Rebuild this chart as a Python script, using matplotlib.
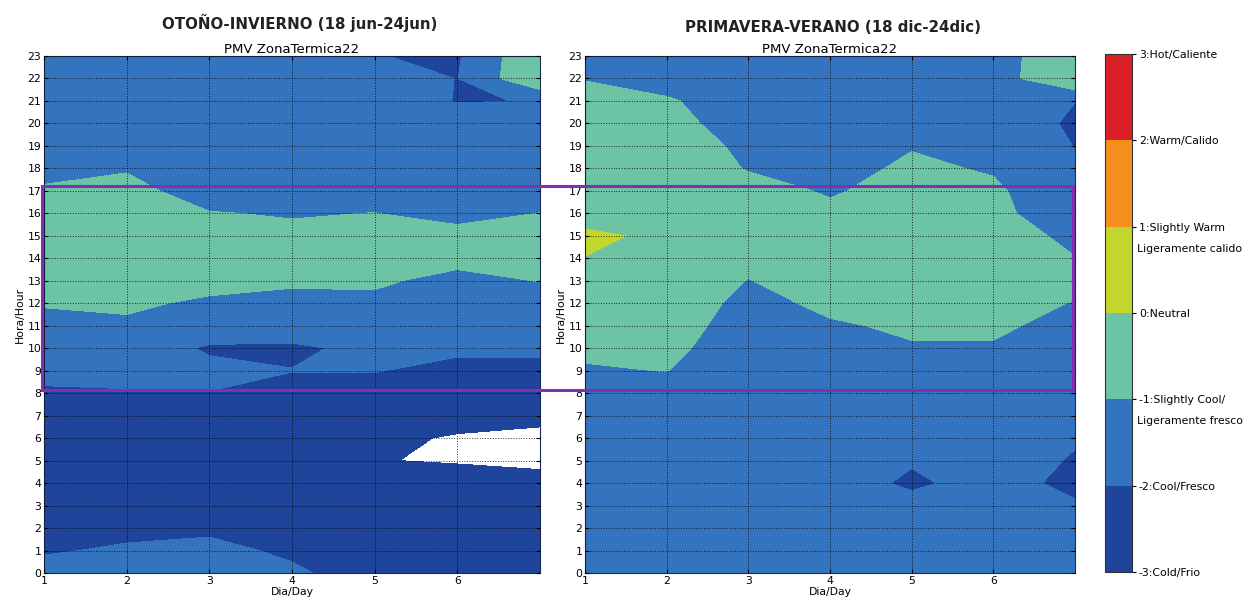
import matplotlib
matplotlib.use("Agg")
import matplotlib.pyplot as plt
import matplotlib.transforms as mtransforms
import numpy as np
from matplotlib.patches import Rectangle

days = [1, 2, 3, 4, 5, 6, 7]
hours = list(range(24))

# PMV, one list per day (hour 0..23) - Otono-Invierno
oi_d1 = [-1.7, -2.075, -2.3, -2.4, -2.5, -2.5, -2.5, -2.4, -2.1, -1.8, -1.5, -1.2, -0.95, -0.7, -0.5, -0.5, -0.6, -0.9, -1.25, -1.3, -1.4, -1.5, -1.5, -1.5]
oi_d2 = [-1.6, -1.9, -2.2, -2.4, -2.5, -2.5, -2.5, -2.4, -2.05, -1.8, -1.5, -1.1, -0.9, -0.7, -0.5, -0.5, -0.6, -0.8, -1.05, -1.3, -1.4, -1.5, -1.5, -1.6]
oi_d3 = [-1.5, -1.85, -2.1, -2.4, -2.5, -2.6, -2.6, -2.4, -2.02, -1.8, -2.1, -1.5, -1.1, -0.8, -0.6, -0.7, -0.97, -1.3, -1.4, -1.5, -1.5, -1.5, -1.6, -1.6]
oi_d4 = [-1.9, -2.1, -2.4, -2.5, -2.6, -2.6, -2.6, -2.5, -2.3, -1.98, -2.15, -1.5, -1.2, -0.9, -0.7, -0.85, -1.05, -1.3, -1.4, -1.5, -1.5, -1.5, -1.6, -1.7]
oi_d5 = [-2.3, -2.5, -2.6, -2.7, -2.6, -2.95, -2.77, -2.6, -2.3, -1.97, -1.78, -1.5, -1.15, -0.9, -0.7, -0.8, -0.99, -1.3, -1.4, -1.5, -1.4, -1.3, -1.5, -1.98]
oi_d6 = [-2.4, -2.5, -2.6, -2.6, -2.33, -3.117, -3.1, -2.6, -2.4, -2.2, -1.87, -1.6, -1.4, -1.2, -0.8, -0.8, -1.2, -1.4, -1.5, -1.5, -1.5, -2.05, -2.02, -2.1]
oi_d7 = [-2.5, -2.6, -2.6, -2.6, -2.7, -3.2, -3.1, -2.9, -2.6, -2.2, -1.87, -1.6, -1.3, -0.98, -0.8, -0.8, -0.99, -1.3, -1.4, -1.5, -1.6, -1.97, -0.05, -0.1]

# PMV - Primavera-Verano
pv_d1 = [-1.5, -1.5, -1.6, -1.6, -1.6, -1.6, -1.6, -1.5, -1.4, -1.1, -0.8, -0.6, -0.5, -0.4, -0.02, 0.2, -0.47, -0.5, -0.5, -0.5, -0.55, -0.6, -1.05, -1.3]
pv_d2 = [-1.5, -1.5, -1.6, -1.6, -1.6, -1.6, -1.6, -1.6, -1.5, -0.98, -0.74, -0.5, -0.36, -0.3, -0.25, -0.2, -0.3, -0.4, -0.45, -0.5, -0.72, -0.9, -1.4, -1.5]
pv_d3 = [-1.5, -1.5, -1.6, -1.6, -1.6, -1.6, -1.6, -1.7, -1.7, -1.7, -1.6, -1.5, -1.3, -1.03, -0.7, -0.5, -0.5, -0.7, -1.05, -1.2, -1.4, -1.5, -1.5, -1.5]
pv_d4 = [-1.5, -1.5, -1.6, -1.6, -1.57, -1.6, -1.6, -1.6, -1.6, -1.5, -1.3, -1.1, -0.8, -0.5, -0.4, -0.5, -0.83, -1.08, -1.3, -1.4, -1.5, -1.5, -1.5, -1.5]
pv_d5 = [-1.6, -1.6, -1.6, -1.72, -2.15, -1.92, -1.7, -1.6, -1.5, -1.3, -1.07, -0.87, -0.6, -0.4, -0.4, -0.4, -0.5, -0.7, -0.85, -1.05, -1.3, -1.4, -1.5, -1.5]
pv_d6 = [-1.6, -1.6, -1.7, -1.7, -1.65, -1.8, -1.7, -1.6, -1.5, -1.3, -1.07, -0.87, -0.6, -0.4, -0.45, -0.6, -0.8, -0.85, -1.08, -1.4, -1.5, -1.5, -1.49, -1.39]
pv_d7 = [-1.6, -1.7, -1.8, -1.9, -2.233, -2.035, -1.965, -1.8, -1.7, -1.6, -1.5, -1.25, -1.05, -0.6, -0.98, -1.2, -1.5, -1.7, -1.92, -2.02, -2.125, -1.99, -0.01, -0.3]

levels = [-3, -2, -1, 0, 1, 2, 3]
colors = ["#1f449c", "#3474be", "#6dc4a4", "#c4d62c", "#f48f1e", "#da1f26"]
level_labels = ["-3:Cold/Frio", "-2:Cool/Fresco", "-1:Slightly Cool/", "0:Neutral",
                "1:Slightly Warm", "2:Warm/Calido", "3:Hot/Caliente"]
second_lines = {-1: "Ligeramente fresco", 1: "Ligeramente calido"}

oi = np.column_stack([oi_d1, oi_d2, oi_d3, oi_d4, oi_d5, oi_d6, oi_d7])
pv = np.column_stack([pv_d1, pv_d2, pv_d3, pv_d4, pv_d5, pv_d6, pv_d7])

fig = plt.figure(figsize=(12.48, 6.05), dpi=100)
W, H = 1248, 605
ax1 = fig.add_axes([44 / W, 32 / H, 496 / W, 517 / H])
ax2 = fig.add_axes([585 / W, 32 / H, 490 / W, 517 / H])
cax = fig.add_axes([1105 / W, 33 / H, 27 / W, 518 / H])

for ax, data in [(ax1, oi), (ax2, pv)]:
    cs = ax.contourf(days, hours, data, levels=levels, colors=colors)
    ax.set_xlim(1, 7)
    ax.set_ylim(0, 23)
    ax.set_xticks([1, 2, 3, 4, 5, 6])
    ax.set_yticks(hours)
    ax.tick_params(labelsize=7.8, direction="in", top=True, right=True, length=3, pad=2)
    ax.set_axisbelow(False)
    ax.grid(True, color="black", linestyle=":", linewidth=0.7, alpha=0.8)
    ax.set_title("PMV ZonaTermica22", fontsize=9.5, pad=2)
    ax.set_xlabel("Dia/Day", fontsize=7.8, labelpad=1)
    ax.set_ylabel("Hora/Hour", fontsize=7.8, labelpad=2)
    for s in ax.spines.values():
        s.set_color("#1a2a50")

fig.text(300 / W, 1 - 23 / H, "OTOÑO-INVIERNO (18 jun-24jun)", ha="center", va="center",
         fontsize=10.8, fontweight="bold", color="#222222")
fig.text(833 / W, 1 - 27 / H, "PRIMAVERA-VERANO (18 dic-24dic)", ha="center", va="center",
         fontsize=10.8, fontweight="bold", color="#222222")

cb = fig.colorbar(cs, cax=cax, ticks=levels)
cb.outline.set_edgecolor("#333333")
cb.ax.tick_params(labelsize=7.8, length=3, pad=2)
cb.set_ticklabels(level_labels)
# second line of the two-line labels, placed just under the tick
shift = mtransforms.ScaledTranslation(0.05, 0, fig.dpi_scale_trans)
blend = mtransforms.blended_transform_factory(cax.transAxes, cax.transData) + shift
for lv, txt in second_lines.items():
    cax.text(1.0, lv - 0.255, txt, fontsize=7.8, va="center", ha="left", transform=blend)

# purple highlight box spanning both panels
p0 = ax1.transData.transform((1, 8.13))
p1 = ax2.transData.transform((6.98, 17.22))
inv = fig.transFigure.inverted()
(x0, y0), (x1, y1) = inv.transform([p0, p1])
fig.add_artist(Rectangle((x0 - 2 / W, y0), x1 - x0 + 2 / W, y1 - y0, transform=fig.transFigure,
                         fill=False, edgecolor="#8030b0", linewidth=2.2, zorder=10))

fig.savefig("out.png", dpi=100)
